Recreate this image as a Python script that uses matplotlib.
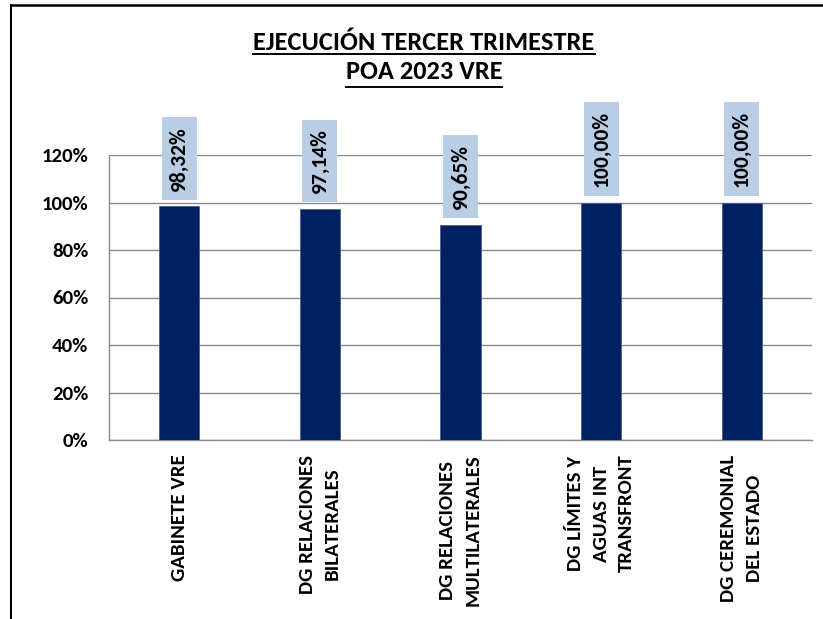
#!/usr/bin/env python3
"""Ejecucion tercer trimestre POA 2023 VRE - bar chart."""
import matplotlib
matplotlib.use("Agg")
import matplotlib.pyplot as plt
from matplotlib.lines import Line2D
from matplotlib.patches import Rectangle
from matplotlib.transforms import IdentityTransform
import numpy as np

plt.rcParams["font.family"] = ["Carlito", "Lato", "DejaVu Sans"]
plt.rcParams["font.weight"] = "bold"

categories = ["GABINETE VRE",
              "DG RELACIONES\nBILATERALES",
              "DG RELACIONES\nMULTILATERALES",
              "DG LÍMITES Y\nAGUAS INT\nTRANSFRONT",
              "DG CEREMONIAL\nDEL ESTADO"]
values = [0.9832, 0.9714, 0.9065, 1.0, 1.0]
value_labels = ["98,32%", "97,14%", "90,65%", "100,00%", "100,00%"]
yticks = [0, 0.2, 0.4, 0.6, 0.8, 1.0, 1.2]
ytick_labels = ["0%", "20%", "40%", "60%", "80%", "100%", "120%"]

W, H, DPI = 823, 619, 100
fig = plt.figure(figsize=(W / DPI, H / DPI), dpi=DPI)
ax = fig.add_axes([109 / W, 1 - 440 / H, (812 - 109) / W, (440 - 155) / H])

GRID = "#8a8a8a"
xs = np.arange(len(categories))
ax.bar(xs, values, width=0.285, color="#002060", edgecolor="#4a6090", lw=0.6, zorder=3)
ax.set_xlim(-0.5, len(categories) - 0.5)
ax.set_ylim(0, 1.2)

# value labels: text 16 px above bar top, light-blue box drawn round it afterwards
vlabs = []
for x, v, lab in zip(xs, values, value_labels):
    vlabs.append(ax.annotate(lab, (x, v), xytext=(0, 11.5), textcoords="offset points",
                             rotation=90, ha="center", va="bottom", fontsize=15.5,
                             fontweight="bold", color="#000000", zorder=6,
                             annotation_clip=False))

ax.set_yticks(yticks)
ax.set_yticklabels(ytick_labels, fontsize=15, fontweight="bold")
ax.set_xticks(xs)
ax.set_xticklabels(categories, rotation=90, ha="center", va="top", fontsize=15,
                   fontweight="bold", multialignment="center", linespacing=1.6)
ax.tick_params(axis="y", length=0, pad=15)
ax.tick_params(axis="x", length=0, pad=10.5)
ax.yaxis.grid(True, color=GRID, lw=1.0, zorder=0)
ax.set_axisbelow(True)
for s in ("top", "right"):
    ax.spines[s].set_visible(False)
for s in ("left", "bottom"):
    ax.spines[s].set_color(GRID)
    ax.spines[s].set_linewidth(1.0)

# title with underlines
t1 = fig.text(424 / W, 1 - 50 / H, "EJECUCIÓN TERCER TRIMESTRE", ha="center", va="baseline",
              fontsize=19, fontweight="bold")
t2 = fig.text(424 / W, 1 - 79 / H, "POA 2023 VRE", ha="center", va="baseline",
              fontsize=19, fontweight="bold")
fig.canvas.draw()
r = fig.canvas.get_renderer()
for t, uy in ((t1, 54.0), (t2, 87.0)):
    bb = t.get_window_extent(r)
    fig.add_artist(Line2D([bb.x0 / W, bb.x1 / W], [1 - uy / H, 1 - uy / H],
                          transform=fig.transFigure, color="black", lw=1.4))

for t in vlabs:
    bb = t.get_window_extent(r)
    cx = (bb.x0 + bb.x1) / 2
    box = Rectangle((cx - 17.5, bb.y0 - 9), 35, bb.height + 18, transform=IdentityTransform(),
                    fc="#b9cde5", ec="none", zorder=5, clip_on=False)
    ax.add_artist(box)

# outer frame (left and top edges)
fig.add_artist(Line2D([11 / W, 11 / W], [0, 1 - 5 / H], transform=fig.transFigure,
                      color="black", lw=1.5))
fig.add_artist(Line2D([11 / W, 1], [1 - 5 / H, 1 - 5 / H], transform=fig.transFigure,
                      color="black", lw=1.8))

fig.savefig("out.png", dpi=DPI)
